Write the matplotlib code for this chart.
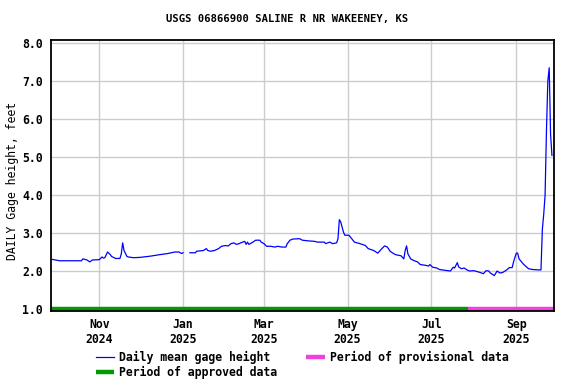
import numpy as np
import pandas as pd
import matplotlib
matplotlib.use("Agg")
import matplotlib.pyplot as plt
import matplotlib.dates as mdates

# Daily mean gage height, feet
dates = [
    "2024-09-27", "2024-10-03", "2024-10-19", "2024-10-20", "2024-10-23", "2024-10-25",
    "2024-10-27", "2024-11-01", "2024-11-03", "2024-11-04", "2024-11-05", "2024-11-07",
    "2024-11-09", "2024-11-10", "2024-11-13", "2024-11-16", "2024-11-17", "2024-11-18",
    "2024-11-19", "2024-11-21", "2024-11-22", "2024-11-26", "2024-12-01", "2024-12-08",
    "2024-12-15", "2024-12-21", "2024-12-26", "2024-12-29", "2024-12-31", "2025-01-01",
    "2025-01-03",
    "2025-01-06", "2025-01-10", "2025-01-11", "2025-01-16", "2025-01-18", "2025-01-19",
    "2025-01-21", "2025-01-24", "2025-01-27", "2025-01-29", "2025-02-01", "2025-02-03",
    "2025-02-05", "2025-02-07", "2025-02-09", "2025-02-11", "2025-02-12", "2025-02-15",
    "2025-02-16", "2025-02-17", "2025-02-18", "2025-02-21", "2025-02-23", "2025-02-26",
    "2025-02-27", "2025-03-01", "2025-03-03", "2025-03-06", "2025-03-09", "2025-03-11",
    "2025-03-14", "2025-03-17", "2025-03-18", "2025-03-20", "2025-03-22", "2025-03-27",
    "2025-03-29", "2025-04-03", "2025-04-07", "2025-04-09", "2025-04-14", "2025-04-15",
    "2025-04-18", "2025-04-20", "2025-04-23", "2025-04-24", "2025-04-25", "2025-04-26",
    "2025-04-27", "2025-04-28", "2025-04-29", "2025-05-02", "2025-05-04", "2025-05-06",
    "2025-05-10", "2025-05-14", "2025-05-16", "2025-05-20", "2025-05-23", "2025-05-26",
    "2025-05-28", "2025-05-30", "2025-06-01", "2025-06-03", "2025-06-05", "2025-06-09",
    "2025-06-11", "2025-06-12", "2025-06-13", "2025-06-14", "2025-06-16", "2025-06-18",
    "2025-06-21", "2025-06-23", "2025-06-27", "2025-06-29", "2025-06-30", "2025-07-02",
    "2025-07-05", "2025-07-07", "2025-07-11", "2025-07-15", "2025-07-17", "2025-07-18",
    "2025-07-20", "2025-07-21", "2025-07-23", "2025-07-25", "2025-07-27", "2025-07-29",
    "2025-08-01", "2025-08-05", "2025-08-08", "2025-08-10", "2025-08-12", "2025-08-13",
    "2025-08-16", "2025-08-18", "2025-08-20", "2025-08-22", "2025-08-25", "2025-08-27",
    "2025-08-29", "2025-08-30", "2025-09-01", "2025-09-02", "2025-09-03", "2025-09-06",
    "2025-09-08", "2025-09-10", "2025-09-13", "2025-09-17", "2025-09-19", "2025-09-20",
    "2025-09-21", "2025-09-22", "2025-09-23", "2025-09-24", "2025-09-25", "2025-09-26",
    "2025-09-27",
]
gage = [
    2.32, 2.28, 2.28, 2.33, 2.30, 2.25,
    2.30, 2.31, 2.38, 2.35, 2.36, 2.51,
    2.44, 2.39, 2.34, 2.34, 2.46, 2.75,
    2.55, 2.40, 2.38, 2.36, 2.37, 2.40,
    2.44, 2.47, 2.51, 2.51, 2.47, 2.49,
    np.nan,
    2.49, 2.49, 2.53, 2.55, 2.60, 2.55,
    2.53, 2.55, 2.60, 2.66, 2.68, 2.67,
    2.73, 2.75, 2.71, 2.73, 2.75, 2.79,
    2.71, 2.77, 2.71, 2.77, 2.82, 2.82,
    2.77, 2.73, 2.66, 2.66, 2.64, 2.66,
    2.64, 2.64, 2.73, 2.82, 2.85, 2.86,
    2.82, 2.80, 2.79, 2.77, 2.77, 2.73,
    2.77, 2.73, 2.75, 2.86, 3.36, 3.30,
    3.17, 3.03, 2.95, 2.95, 2.86, 2.77,
    2.73, 2.68, 2.60, 2.55, 2.48, 2.60,
    2.67, 2.64, 2.53, 2.48, 2.44, 2.41,
    2.33, 2.55, 2.67, 2.46, 2.33, 2.29,
    2.25, 2.18, 2.16, 2.14, 2.18, 2.11,
    2.09, 2.05, 2.03, 2.01, 2.11, 2.09,
    2.23, 2.12, 2.07, 2.09, 2.04, 2.01,
    2.02, 1.98, 1.94, 2.02, 2.01, 1.96,
    1.89, 2.01, 1.96, 1.97, 2.04, 2.10,
    2.10, 2.25, 2.48, 2.48, 2.33, 2.20,
    2.13, 2.07, 2.05, 2.04, 2.04, 3.10,
    3.50, 4.00, 5.70, 7.00, 7.35, 5.60,
    5.05,
]

# Data approval periods
approved_periods = [("2024-09-26 18:00", "2025-01-02 20:00"), ("2025-01-03 12:00", "2025-07-28 00:00")]
provisional_periods = [("2025-07-28 00:00", "2025-09-28 10:00")]

x_start, x_end = "2024-09-26 18:00", "2025-09-28 12:00"
yticks = [1.0, 2.0, 3.0, 4.0, 5.0, 6.0, 7.0, 8.0]

plt.rcParams['font.family'] = ['DejaVu Sans Mono']
plt.rcParams['font.weight'] = 'bold'

fig = plt.figure(figsize=(5.76, 3.84), dpi=100)
ax = fig.add_axes([51 / 576, 73 / 384, 503 / 576, 271 / 384])

t = pd.to_datetime(dates)
line, = ax.plot(t, gage, color='#0000ff', lw=0.9, label='Daily mean gage height')

for s, e in approved_periods:
    appr, = ax.plot([pd.Timestamp(s), pd.Timestamp(e)], [1.0, 1.0], color='#009900', lw=3.2,
                    solid_capstyle='butt', label='Period of approved data')
for s, e in provisional_periods:
    prov, = ax.plot([pd.Timestamp(s), pd.Timestamp(e)], [1.0, 1.0], color='#f040e0', lw=3.2,
                    solid_capstyle='butt', label='Period of provisional data')

ax.set_xlim(pd.Timestamp(x_start), pd.Timestamp(x_end))
ax.set_ylim(0.96, 8.08)
ax.set_yticks(yticks)
ax.yaxis.set_major_formatter(matplotlib.ticker.FormatStrFormatter('%.1f'))
ax.xaxis.set_major_locator(mdates.MonthLocator(bymonth=[1, 3, 5, 7, 9, 11]))
ax.xaxis.set_major_formatter(mdates.DateFormatter('%b\n%Y'))
ax.tick_params(length=0, labelsize=8.3, pad=5)
ax.tick_params(axis='y', pad=6)
ax.grid(True, color='#cccccc', lw=1)
ax.set_axisbelow(True)
for sp in ax.spines.values():
    sp.set_linewidth(1.3)

ax.set_ylabel('DAILY Gage height, feet', fontsize=8.3)
ax.yaxis.set_label_coords(-0.063, 0.48)
fig.text(287 / 576, 1 - 19 / 384, 'USGS 06866900 SALINE R NR WAKEENEY, KS',
         ha='center', va='center', fontsize=7.6, fontweight='bold')

fig.legend([line, appr, prov],
           ['Daily mean gage height', 'Period of approved data', 'Period of provisional data'],
           ncol=2, loc='upper left', bbox_to_anchor=(90 / 576, 1 - 345 / 384),
           frameon=False, fontsize=8.3, handlelength=1.6, handletextpad=0.45,
           columnspacing=2.5, labelspacing=0.2, borderpad=0)

fig.savefig('out.png', dpi=100)
